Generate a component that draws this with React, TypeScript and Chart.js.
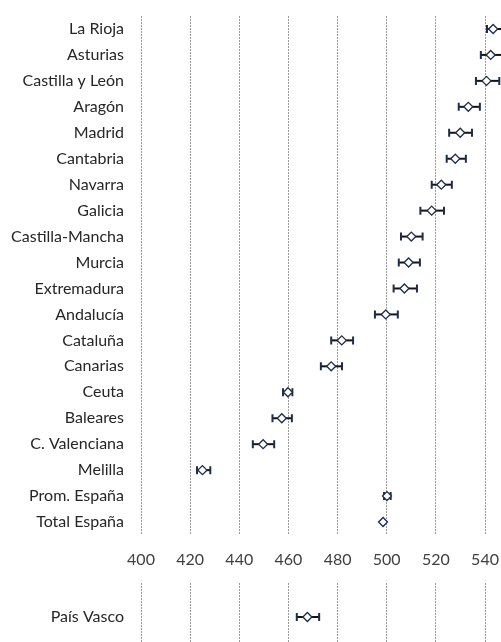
import React, { useEffect, useRef } from "react";
import { Chart, registerables } from "chart.js";

Chart.register(...registerables);

const categories = [
  "La Rioja",
  "Asturias",
  "Castilla y León",
  "Aragón",
  "Madrid",
  "Cantabria",
  "Navarra",
  "Galicia",
  "Castilla-Mancha",
  "Murcia",
  "Extremadura",
  "Andalucía",
  "Cataluña",
  "Canarias",
  "Ceuta",
  "Baleares",
  "C. Valenciana",
  "Melilla",
  "Prom. España",
  "Total España",
];
const means = [543.3, 542.3, 540.6, 533.2, 529.9, 527.9, 522.2, 518.3, 510.0, 508.9, 507.2, 499.6, 481.7, 477.4, 459.8, 457.3, 449.7, 425.0, 500.1, 498.5];
const lows = [540.8, 538.3, 536.3, 529.3, 525.4, 524.4, 518.3, 513.7, 505.8, 504.9, 502.8, 495.2, 477.4, 473.2, 457.8, 453.5, 445.5, 422.8, 498.9, 498.5];
const highs = [547.5, 547.5, 545.8, 537.9, 534.7, 532.2, 526.5, 523.3, 514.6, 513.5, 512.3, 504.5, 486.3, 481.8, 461.6, 461.4, 454.2, 428.2, 501.6, 498.5];

const bottomCategories = ["País Vasco"];
const bottomMeans = [467.7];
const bottomLows = [463.4];
const bottomHighs = [472.5];

const xTicks = [400, 420, 440, 460, 480, 500, 520, 540];
const xMin = 400;
const xMax = 546.5;

const FONT = "Lato, 'DejaVu Sans', sans-serif";

function makeErrorBars(lo: number[], hi: number[]) {
  return {
    id: "errorBars",
    beforeDatasetsDraw(chart: any) {
      const { ctx, chartArea, scales } = chart;
      const meta = chart.getDatasetMeta(0);
      ctx.save();
      ctx.beginPath();
      ctx.rect(chartArea.left, chartArea.top, chartArea.right - chartArea.left, chartArea.bottom - chartArea.top);
      ctx.clip();
      meta.data.forEach((pt: any, i: number) => {
        if (lo[i] === hi[i]) return;
        const y = pt.y;
        const x1 = scales.x.getPixelForValue(lo[i]);
        const x2 = scales.x.getPixelForValue(hi[i]);
        ctx.strokeStyle = "#141414";
        ctx.lineWidth = 2;
        ctx.beginPath();
        ctx.moveTo(x1, y);
        ctx.lineTo(x2, y);
        ctx.stroke();
        ctx.strokeStyle = "#1f2d4d";
        ctx.lineWidth = 2;
        ctx.beginPath();
        ctx.moveTo(x1, y - 4);
        ctx.lineTo(x1, y + 4);
        ctx.moveTo(x2, y - 4);
        ctx.lineTo(x2, y + 4);
        ctx.stroke();
      });
      ctx.restore();
    },
  };
}

function makeConfig(cats: string[], vals: number[], lo: number[], hi: number[], showTicks: boolean, padTop: number, padBottom: number, xAxisHeight: number): any {
  return {
    type: "scatter",
    data: {
      labels: cats,
      datasets: [
        {
          data: vals.map((v, i) => ({ x: v, y: cats[i] })),
          pointStyle: "rectRot",
          pointRadius: 4.5,
          pointBackgroundColor: "#ffffff",
          pointBorderColor: "#1f2d4d",
          pointBorderWidth: 1.3,
          showLine: false,
        },
      ],
    },
    options: {
      responsive: false,
      maintainAspectRatio: false,
      animation: false,
      devicePixelRatio: 1,
      layout: { autoPadding: false, padding: { top: padTop, bottom: padBottom, left: 0, right: 0 } },
      plugins: { legend: { display: false }, tooltip: { enabled: false } },
      scales: {
        x: {
          type: "linear",
          position: "bottom",
          min: xMin,
          max: xMax,
          afterBuildTicks: (axis: any) => {
            axis.ticks = xTicks.map((v) => ({ value: v }));
          },
          afterFit: (axis: any) => {
            axis.height = xAxisHeight;
            axis.paddingLeft = 0;
            axis.paddingRight = 0;
            axis.paddingTop = 0;
            axis.paddingBottom = 0;
          },
          grid: { display: true, color: "#9a9a9a", lineWidth: 1, drawTicks: false },
          border: { display: false, dash: [2, 1] },
          ticks: {
            display: showTicks,
            font: { family: FONT, size: 16 },
            color: "#404040",
            padding: 15,
            maxRotation: 0,
            autoSkip: false,
          },
        },
        y: {
          type: "category",
          labels: cats,
          offset: true,
          afterFit: (axis: any) => {
            axis.width = 141;
            axis.paddingLeft = 0;
            axis.paddingRight = 0;
            axis.paddingTop = 0;
            axis.paddingBottom = 0;
          },
          grid: { display: false, drawTicks: false },
          border: { display: false },
          ticks: {
            font: { family: FONT, size: 16 },
            color: "#262626",
            padding: 17,
            autoSkip: false,
          },
        },
      },
    },
    plugins: [makeErrorBars(lo, hi)],
  };
}

export default function App() {
  const topRef = useRef<HTMLCanvasElement | null>(null);
  const botRef = useRef<HTMLCanvasElement | null>(null);

  useEffect(() => {
    if (!topRef.current || !botRef.current) return;
    const top = new Chart(topRef.current, makeConfig(categories, means, lows, highs, true, 16, 0, 40));
    const bot = new Chart(botRef.current, makeConfig(bottomCategories, bottomMeans, bottomLows, bottomHighs, false, 8, 4, 0));
    return () => {
      top.destroy();
      bot.destroy();
    };
  }, []);

  return (
    <div
      style={{
        position: "fixed",
        left: 0,
        top: 0,
        width: 501,
        height: 642,
        overflow: "hidden",
        background: "#ffffff",
      }}
    >
      <canvas
        ref={topRef}
        width={501}
        height={575}
        style={{ position: "absolute", left: 0, top: 0, width: 501, height: 575 }}
      />
      <canvas
        ref={botRef}
        width={501}
        height={80}
        style={{ position: "absolute", left: 0, top: 575, width: 501, height: 80 }}
      />
    </div>
  );
}
